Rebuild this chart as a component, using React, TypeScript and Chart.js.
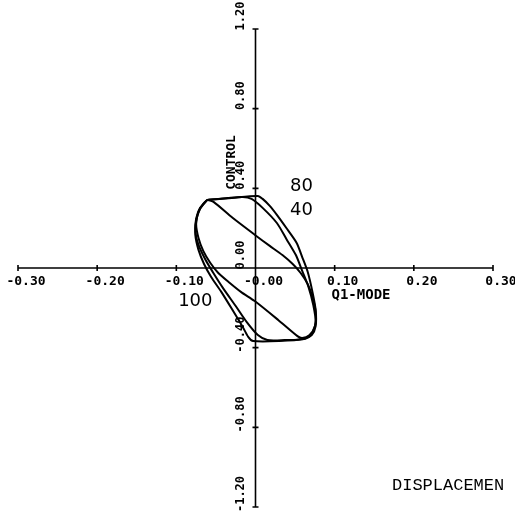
import { useEffect, useRef } from "react";
import { Chart, registerables } from "chart.js";

Chart.register(...registerables);

// Axis ranges and tick labels
const xRange = [-0.3, 0.3];
const yRange = [-1.2, 1.2];
const xTickValues = [-0.3, -0.2, -0.1, 0, 0.1, 0.2, 0.3];
const xTickLabels = ["-0.30", "-0.20", "-0.10", "-0.00", "0.10", "0.20", "0.30"];
const yTickValues = [1.2, 0.8, 0.4, 0, -0.4, -0.8, -1.2];
const yTickLabels = ["1.20", "0.80", "0.40", "0.00", "-0.40", "-0.80", "-1.20"];

// Loop at 80: displacement (Q1 mode) and control
const loop80Disp = [
  -0.061, -0.030, 0.003, 0.009, 0.018, 0.027, 0.039, 0.052, 0.059, 0.066, 0.072, 0.076, 0.076,
  0.071, 0.061, 0.030, -0.003, -0.009, -0.016, -0.029, -0.043, -0.056, -0.065, -0.072, -0.076,
  -0.075, -0.070, -0.061,
];
const loop80Ctrl = [
  0.342, 0.352, 0.362, 0.347, 0.312, 0.267, 0.201, 0.126, 0.055, -0.020, -0.121, -0.211, -0.292,
  -0.337, -0.357, -0.367, -0.367, -0.347, -0.297, -0.211, -0.121, -0.045, 0.020, 0.091, 0.166,
  0.236, 0.297, 0.342,
];

// Loop at 40
const loop40Disp = [
  -0.061, -0.035, -0.016, -0.005, 0.009, 0.027, 0.039, 0.051, 0.059, 0.067, 0.073, 0.076, 0.071,
  0.061, 0.037, 0.015, 0.003, -0.011, -0.025, -0.041, -0.054, -0.063, -0.072, -0.076, -0.075,
  -0.070, -0.061,
];
const loop40Ctrl = [
  0.342, 0.352, 0.357, 0.347, 0.302, 0.226, 0.146, 0.065, -0.015, -0.096, -0.186, -0.272, -0.332,
  -0.357, -0.362, -0.362, -0.337, -0.272, -0.191, -0.101, -0.020, 0.040, 0.116, 0.181, 0.247,
  0.302, 0.342,
];

// Loop at 100
const loop100Disp = [
  -0.061, -0.053, -0.029, 0.001, 0.018, 0.034, 0.047, 0.057, 0.066, 0.072, 0.076, 0.075, 0.068,
  0.059, 0.053, 0.029, -0.001, -0.018, -0.034, -0.047, -0.057, -0.066, -0.072, -0.075, -0.072,
  -0.066, -0.061,
];
const loop100Ctrl = [
  0.342, 0.332, 0.252, 0.161, 0.111, 0.065, 0.020, -0.025, -0.081, -0.146, -0.221, -0.292, -0.337,
  -0.352, -0.342, -0.262, -0.166, -0.121, -0.070, -0.025, 0.025, 0.086, 0.151, 0.221, 0.282,
  0.322, 0.342,
];

const loopNames = ["80", "40", "100"];

const toPoints = (xs: number[], ys: number[]) => xs.map((x, i) => ({ x, y: ys[i] }));

const plotFrame = {
  id: "plotFrame",
  beforeDatasetsDraw(chart: any) {
    const { ctx } = chart;
    const xs = chart.scales.x;
    const ys = chart.scales.y;
    const x0 = xs.getPixelForValue(0);
    const y0 = ys.getPixelForValue(0);
    ctx.save();
    ctx.strokeStyle = "#000";
    ctx.lineWidth = 1.6;
    ctx.beginPath();
    ctx.moveTo(xs.getPixelForValue(xRange[0]), y0);
    ctx.lineTo(xs.getPixelForValue(xRange[1]), y0);
    ctx.moveTo(x0, ys.getPixelForValue(yRange[1]));
    ctx.lineTo(x0, ys.getPixelForValue(yRange[0]));
    xTickValues.forEach((v) => {
      const p = xs.getPixelForValue(v);
      ctx.moveTo(p, y0 - 3);
      ctx.lineTo(p, y0 + 3);
    });
    yTickValues.forEach((v) => {
      const p = ys.getPixelForValue(v);
      ctx.moveTo(x0 - 3, p);
      ctx.lineTo(x0 + 3, p);
    });
    ctx.stroke();

    ctx.fillStyle = "#000";
    ctx.textAlign = "center";
    ctx.textBaseline = "middle";
    ctx.font = "bold 13px 'DejaVu Sans Mono'";
    xTickValues.forEach((v, i) => {
      ctx.fillText(xTickLabels[i], xs.getPixelForValue(v) + 8, y0 + 14);
    });
    ctx.font = "bold 12px 'DejaVu Sans Mono'";
    yTickValues.forEach((v, i) => {
      ctx.save();
      ctx.translate(x0 - 15, ys.getPixelForValue(v) - 13);
      ctx.rotate(-Math.PI / 2);
      ctx.fillText(yTickLabels[i], 0, 0);
      ctx.restore();
    });

    // axis titles
    ctx.font = "bold 13px 'DejaVu Sans Mono'";
    ctx.save();
    ctx.translate(x0 - 24, ys.getPixelForValue(0.53));
    ctx.rotate(-Math.PI / 2);
    ctx.fillText("CONTROL", 0, 0);
    ctx.restore();
    ctx.font = "bold 14px 'DejaVu Sans Mono'";
    ctx.textAlign = "left";
    ctx.fillText("Q1-MODE", xs.getPixelForValue(0.096), y0 + 27);
    ctx.restore();
  },
  afterDatasetsDraw(chart: any) {
    const { ctx } = chart;
    const xs = chart.scales.x;
    const ys = chart.scales.y;
    ctx.save();
    ctx.fillStyle = "#000";
    ctx.textAlign = "center";
    ctx.textBaseline = "middle";
    ctx.font = "18px 'DejaVu Sans'";
    ctx.fillText(loopNames[0], xs.getPixelForValue(0.058), ys.getPixelForValue(0.41));
    ctx.fillText(loopNames[1], xs.getPixelForValue(0.058), ys.getPixelForValue(0.292));
    ctx.fillText(loopNames[2], xs.getPixelForValue(-0.076), ys.getPixelForValue(-0.166));
    ctx.font = "17px 'Liberation Mono'";
    ctx.textAlign = "left";
    ctx.fillText("DISPLACEMEN", 392, 485);
    ctx.restore();
  },
};

export default function App() {
  const canvasRef = useRef<HTMLCanvasElement | null>(null);

  useEffect(() => {
    if (!canvasRef.current) return;
    const lineStyle = {
      showLine: true,
      borderColor: "#000",
      borderWidth: 2,
      pointRadius: 0,
      tension: 0.25,
      fill: false,
    };
    const chart = new Chart(canvasRef.current, {
      type: "scatter",
      data: {
        datasets: [
          { label: loopNames[0], data: toPoints(loop80Disp, loop80Ctrl), ...lineStyle },
          { label: loopNames[1], data: toPoints(loop40Disp, loop40Ctrl), ...lineStyle },
          { label: loopNames[2], data: toPoints(loop100Disp, loop100Ctrl), ...lineStyle },
        ],
      },
      options: {
        responsive: false,
        animation: false,
        layout: { padding: { left: 18, right: 22, top: 29, bottom: 9 } },
        plugins: { legend: { display: false }, tooltip: { enabled: false } },
        scales: {
          x: { type: "linear", min: xRange[0], max: xRange[1], display: false },
          y: { type: "linear", min: yRange[0], max: yRange[1], display: false },
        },
      },
      plugins: [plotFrame],
    });
    return () => chart.destroy();
  }, []);

  return (
    <canvas
      ref={canvasRef}
      width={515}
      height={516}
      style={{ position: "fixed", left: 0, top: 0, background: "#fff" }}
    />
  );
}
